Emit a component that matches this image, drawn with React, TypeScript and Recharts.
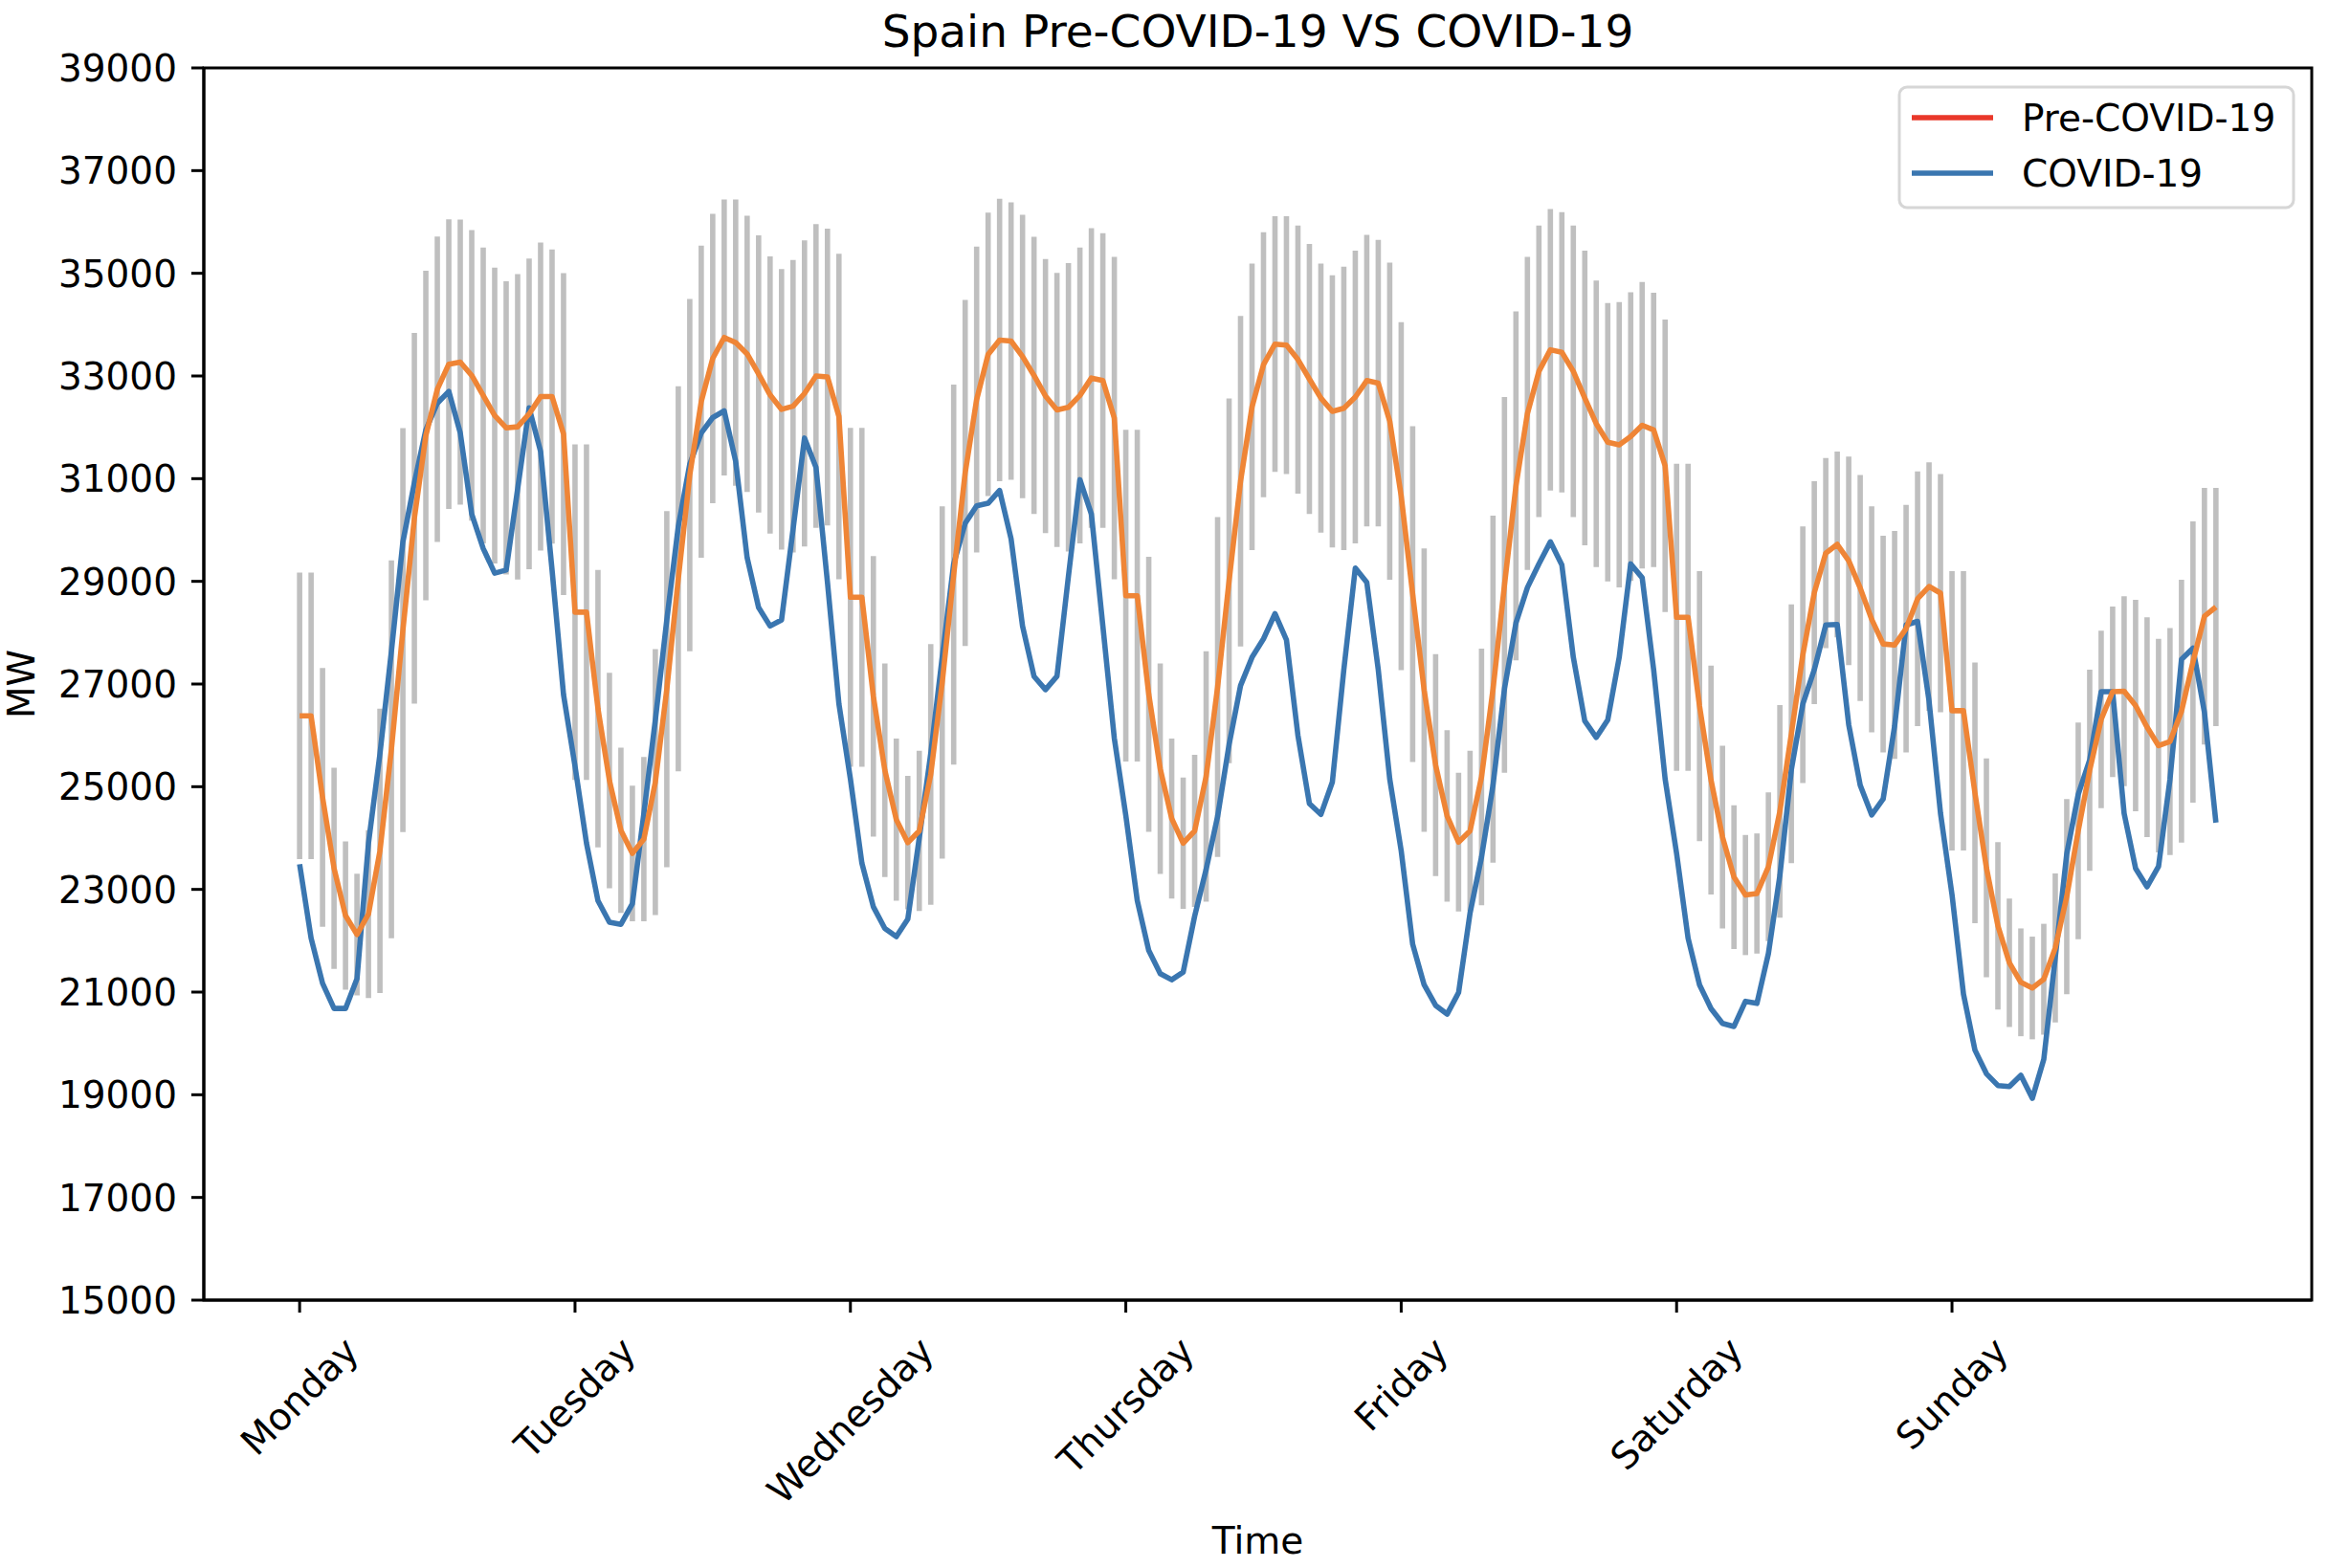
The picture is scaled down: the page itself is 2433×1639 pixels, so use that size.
import React from 'react';
import { ComposedChart, Line, ErrorBar, XAxis, YAxis, ReferenceArea } from 'recharts';

// ─── Data (hourly, Monday 00h .. Sunday 23h) ──────────────────────────────────

const dayLabels = ['Monday', 'Tuesday', 'Wednesday', 'Thursday', 'Friday', 'Saturday', 'Sunday'];

const yTicks = [15000, 17000, 19000, 21000, 23000, 25000, 27000, 29000, 31000, 33000, 35000, 37000, 39000];

// mean demand before COVID-19 (MW)
const preCovid = [
  26380, 26380, 24790, 23410, 22490, 22120, 22520, 23750, 25730, 28050, 30230, 31840, 32740, 33230, 33270, 33010, 32620, 32230, 31990, 32010, 32260, 32600, 32600, 31870,
  28400, 28400, 26520, 25120, 24150, 23700, 23980, 25090, 26900, 29050, 31070, 32500, 33340, 33750, 33650, 33430, 33040, 32630, 32350, 32410, 32660, 33000, 32980, 32210,
  28690, 28690, 26760, 25320, 24360, 23910, 24140, 25240, 27030, 29130, 31110, 32540, 33420, 33700, 33680, 33380, 33010, 32610, 32340, 32390, 32620, 32960, 32910, 32180,
  28720, 28720, 26800, 25350, 24380, 23900, 24140, 25200, 26940, 29010, 30950, 32400, 33220, 33620, 33600, 33320, 32940, 32570, 32310, 32370, 32590, 32910, 32860, 32120,
  30660, 28750, 26880, 25420, 24430, 23920, 24140, 25190, 26900, 28930, 30860, 32270, 33090, 33510, 33460, 33090, 32570, 32070, 31710, 31660, 31820, 32040, 31950, 31250,
  28300, 28300, 26570, 25130, 24020, 23240, 22890, 22920, 23440, 24520, 26030, 27570, 28780, 29550, 29720, 29400, 28870, 28260, 27780, 27760, 28080, 28660, 28900, 28770,
  26480, 26480, 24880, 23420, 22290, 21570, 21190, 21080, 21250, 21860, 22860, 24140, 25320, 26310, 26850, 26860, 26580, 26160, 25800, 25880, 26470, 27430, 28320, 28500,
];

// spread of the pre-COVID-19 weeks (half length of the grey bars, MW)
const preStd = [
  2790, 2790, 2520, 1960, 1445, 1185, 1635, 2770, 3680, 3935, 3610, 3210, 2975, 2820, 2775, 2830, 2880, 2880, 2855, 2975, 3025, 3000, 2865, 3135,
  3270, 3270, 2700, 2100, 1610, 1320, 1600, 2590, 3470, 3750, 3430, 3040, 2820, 2690, 2790, 2690, 2700, 2700, 2730, 2850, 2980, 2960, 2890, 3170,
  3300, 3300, 2730, 2080, 1580, 1300, 1560, 2540, 3430, 3700, 3370, 2980, 2760, 2750, 2700, 2760, 2700, 2670, 2670, 2810, 2880, 2920, 2870, 3140,
  3230, 3230, 2680, 2050, 1560, 1280, 1480, 2440, 3310, 3550, 3220, 2790, 2580, 2490, 2510, 2610, 2630, 2620, 2650, 2760, 2850, 2840, 2790, 3090,
  3390, 3270, 2760, 2160, 1670, 1350, 1560, 2500, 3380, 3660, 3400, 3050, 2840, 2740, 2730, 2840, 2870, 2790, 2710, 2780, 2810, 2790, 2670, 2850,
  2990, 2990, 2630, 2230, 1780, 1400, 1170, 1170, 1450, 2070, 2520, 2500, 2170, 1850, 1810, 2030, 2200, 2200, 2110, 2220, 2410, 2480, 2420, 2320,
  2720, 2720, 2540, 2130, 1630, 1250, 1050, 1000, 1080, 1450, 1900, 2110, 1960, 1730, 1660, 1850, 2060, 2140, 2080, 2210, 2560, 2740, 2500, 2320,
];

// demand during the COVID-19 lockdown week (MW)
const covid = [
  23490, 22050, 21170, 20680, 20680, 21260, 23900, 25640, 27640, 29770, 30920, 31950, 32470, 32700, 31890, 30310, 29640, 29160, 29220, 30800, 32380, 31530, 29220, 26790,
  25400, 23900, 22780, 22360, 22320, 22720, 24480, 26300, 28250, 30070, 31280, 31890, 32190, 32320, 31340, 29460, 28490, 28130, 28250, 30010, 31790, 31220, 28980, 26610,
  25150, 23510, 22660, 22240, 22080, 22420, 24000, 25640, 27520, 29340, 30130, 30470, 30520, 30770, 29830, 28130, 27150, 26890, 27150, 29100, 30980, 30310, 28130, 25940,
  24440, 22780, 21810, 21360, 21240, 21390, 22480, 23390, 24420, 25820, 26970, 27520, 27880, 28370, 27860, 26000, 24670, 24460, 25090, 27280, 29260, 28980, 27280, 25150,
  23750, 21930, 21140, 20740, 20570, 20990, 22540, 23630, 25030, 26910, 28190, 28880, 29340, 29770, 29320, 27520, 26280, 25960, 26300, 27520, 29340, 29070, 27280, 25150,
  23700, 22050, 21140, 20680, 20390, 20330, 20820, 20780, 21750, 23270, 25330, 26610, 27280, 28150, 28160, 26210, 25030, 24450, 24760, 26180, 28150, 28220, 26670, 24480,
  22900, 20960, 19870, 19410, 19180, 19160, 19380, 18930, 19690, 21670, 23690, 24850, 25520, 26850, 26850, 24480, 23410, 23050, 23450, 25150, 27480, 27700, 26450, 24300,
];

const data = preCovid.map((pre, i) => ({ i, pre, std: preStd[i], covid: covid[i] }));

// ─── Look ─────────────────────────────────────────────────────────────────────

const W = 2433;
const H = 1639;
const FONT = '"DejaVu Sans", sans-serif';
const FS = 39;
const TITLE_FS = 47;
const ORANGE = '#ef8536';
const BLUE = '#3a76b0';
const RED = '#e9382a';
const GREY = '#bfbfbf';
const LW = 5.6;
const X_DOMAIN: [number, number] = [-8.35, 175.35];
const PLOT_BOTTOM = 1359;
const TICK_LABEL_TOP = 1389;

const measureCtx = document.createElement('canvas').getContext('2d');
function textWidth(s: string) {
  if (!measureCtx) return s.length * FS * 0.62;
  measureCtx.font = `${FS}px "DejaVu Sans"`;
  return measureCtx.measureText(s).width;
}

// rotated day label, centred under its tick like matplotlib's rotation=45
function DayTick({ x, payload }: any) {
  const label = dayLabels[Math.round(payload.value / 24)] ?? '';
  const w = textWidth(label);
  const h = FS * 1.17;
  const cy = TICK_LABEL_TOP + ((w + h) * Math.SQRT1_2) / 2;
  return (
    <text
      x={x}
      y={cy}
      textAnchor="middle"
      dominantBaseline="central"
      fontSize={FS}
      fontFamily={FONT}
      fill="#000"
      transform={`rotate(-45 ${x} ${cy})`}
    >
      {label}
    </text>
  );
}

export default function App() {
  return (
    <div style={{ position: 'absolute', left: 0, top: 0, width: W, height: H, background: '#fff' }}>
      <ComposedChart
        width={W}
        height={H}
        data={data}
        margin={{ top: 71, right: 17, bottom: 0, left: 0 }}
      >
        <XAxis
          dataKey="i"
          type="number"
          domain={X_DOMAIN}
          allowDataOverflow
          ticks={[0, 24, 48, 72, 96, 120, 144]}
          interval={0}
          height={H - PLOT_BOTTOM}
          tickSize={13}
          tick={<DayTick />}
          axisLine={{ stroke: '#000', strokeWidth: 3 }}
          tickLine={{ stroke: '#000', strokeWidth: 3 }}
        />
        <YAxis
          type="number"
          domain={[15000, 39000]}
          allowDataOverflow
          ticks={yTicks}
          interval={0}
          width={213}
          tickSize={13}
          tickMargin={15}
          tick={{ fontSize: FS, fill: '#000', fontFamily: FONT }}
          axisLine={{ stroke: '#000', strokeWidth: 3 }}
          tickLine={{ stroke: '#000', strokeWidth: 3 }}
        />
        <ReferenceArea
          x1={X_DOMAIN[0]}
          x2={X_DOMAIN[1]}
          y1={15000}
          y2={39000}
          fill="none"
          stroke="#000"
          strokeWidth={3}
          strokeOpacity={1}
        />
        {/* grey spread bars, drawn first so both lines sit above them */}
        <Line
          dataKey="pre"
          stroke="none"
          dot={false}
          activeDot={false}
          legendType="none"
          isAnimationActive={false}
        >
          <ErrorBar
            dataKey="std"
            width={0}
            direction="y"
            stroke={GREY}
            strokeWidth={LW}
            isAnimationActive={false}
          />
        </Line>
        <Line
          type="linear"
          dataKey="covid"
          stroke={BLUE}
          strokeWidth={LW}
          strokeLinejoin="round"
          dot={false}
          activeDot={false}
          isAnimationActive={false}
        />
        <Line
          type="linear"
          dataKey="pre"
          stroke={ORANGE}
          strokeWidth={LW}
          strokeLinejoin="round"
          dot={false}
          activeDot={false}
          isAnimationActive={false}
        />
      </ComposedChart>

      {/* title, axis labels and legend */}
      <svg
        width={W}
        height={H}
        style={{ position: 'absolute', left: 0, top: 0, pointerEvents: 'none' }}
        fontFamily={FONT}
      >
        <text x={1314.5} y={48.5} textAnchor="middle" fontSize={TITLE_FS} fill="#000">
          Spain Pre-COVID-19 VS COVID-19
        </text>
        <text x={1314.5} y={1624} textAnchor="middle" fontSize={FS} fill="#000">
          Time
        </text>
        <text transform="translate(36 715) rotate(-90)" textAnchor="middle" fontSize={FS} fill="#000">
          MW
        </text>

        <rect x={1985} y={91} width={412} height={126} rx={8} fill="#fff" fillOpacity={0.8} stroke="#d6d6d6" strokeWidth={3} />
        <line x1={1998} x2={2083} y1={123} y2={123} stroke={RED} strokeWidth={LW} />
        <text x={2113} y={137} fontSize={FS} fill="#000">Pre-COVID-19</text>
        <line x1={1998} x2={2083} y1={181} y2={181} stroke={BLUE} strokeWidth={LW} />
        <text x={2113} y={195} fontSize={FS} fill="#000">COVID-19</text>
      </svg>
    </div>
  );
}
